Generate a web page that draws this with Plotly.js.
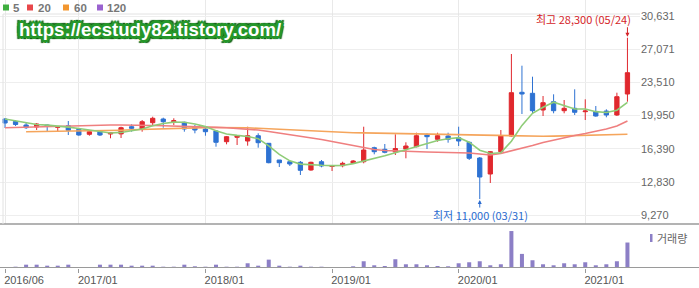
<!DOCTYPE html>
<html><head><meta charset="utf-8">
<script src="https://cdn.plot.ly/plotly-3.0.1.min.js"></script>
<style>html,body{margin:0;padding:0;background:#fff}#c{width:699px;height:288px}</style>
</head><body><div id="c"></div>
<script>
const months = ["2016/06","2016/07","2016/08","2016/09","2016/10","2016/11","2016/12",
"2017/01","2017/02","2017/03","2017/04","2017/05","2017/06","2017/07","2017/08","2017/09","2017/10","2017/11","2017/12",
"2018/01","2018/02","2018/03","2018/04","2018/05","2018/06","2018/07","2018/08","2018/09","2018/10","2018/11","2018/12",
"2019/01","2019/02","2019/03","2019/04","2019/05","2019/06","2019/07","2019/08","2019/09","2019/10","2019/11","2019/12",
"2020/01","2020/02","2020/03","2020/04","2020/05","2020/06","2020/07","2020/08","2020/09","2020/10","2020/11","2020/12",
"2021/01","2021/02","2021/03","2021/04","2021/05"];
const openP  = [19586,19318,18943,18728,18943,18696,18867,18482,17946,18225,17978,17989,18760,18514,19190,19586,19297,19232,18760,18514,18300,17152,17624,17227,17795,16981,15190,15007,14943,14117,15007,14493,14579,14836,15007,16509,16337,16048,16369,16616,17871,17409,17764,17581,17088,15404,13689,16080,17764,22449,22342,20552,21441,20476,20734,20369,20369,20444,20015,22267];
const highP  = [19693,19479,19157,19157,18996,18782,19372,18589,18300,18246,18139,18760,19018,19479,19833,19726,19662,19297,18943,18653,18407,17764,17795,18760,18053,17013,15190,15029,15083,15007,15190,14600,15007,15190,18760,16616,16905,17945,17088,18117,18053,18117,18117,18760,17152,15512,16150,18407,26556,25302,24122,22053,22235,21624,22771,21699,20980,20627,22407,28300];
const lowP   = [18621,18836,18514,18407,18300,18246,17871,17795,17795,17764,17516,17550,18225,18225,18867,18653,18943,18225,18053,17795,16616,16873,16798,16723,16509,14836,14440,14547,13581,14043,14407,14010,14407,14794,14836,15801,15908,15726,15372,16551,16369,17152,17045,16691,15190,11000,12724,15973,17688,20122,20198,19908,20198,20198,20015,19479,19833,19769,19908,21441];
const closeP = [19157,18996,18653,19050,18782,18728,18375,17871,18225,17871,18117,18653,18589,19297,19662,19297,19404,18514,18407,18225,17088,17688,17764,17795,17045,14901,14901,14761,14085,14943,14547,14579,14836,15083,16262,16080,16015,16423,16691,17795,17688,17795,17409,17227,15372,13367,16080,17764,22407,22267,20476,21334,20476,20734,20305,20444,19908,20015,21978,24551];
const ma5  = [19586,19372,19157,18996,18928,18842,18718,18561,18396,18214,18092,18147,18291,18505,18864,19100,19250,19235,19057,18769,18328,17984,17834,17712,17476,16700,15800,15100,14750,14650,14620,14583,14598,14798,15061,15368,15655,15973,16294,16601,16922,17278,17476,17583,17098,16234,15891,15962,17200,18900,20200,20850,21392,21057,20665,20659,20373,20281,20530,21379];
const ma20 = [18654,18686,18729,18771,18814,18857,18889,18911,18932,18943,18943,18943,18943,18921,18889,18857,18836,18803,18771,18729,18686,18643,18589,18514,18407,18246,18085,17924,17763,17570,17388,17174,16959,16691,16477,16316,16208,16155,16101,16069,16048,16026,16016,15994,15941,15833,15726,15887,16155,16445,16745,17067,17335,17603,17817,18031,18246,18514,18836,19372];
const ma60 = [null,null,18224,18235,18246,18257,18268,18278,18300,18321,18353,18386,18429,18471,18514,18557,18589,18621,18643,18664,18675,18675,18664,18643,18589,18536,18482,18428,18375,18310,18246,18171,18139,18117,18096,18074,18053,18031,18010,17989,17967,17946,17914,17882,17849,17817,17785,17753,17731,17721,17721,17731,17753,17774,17806,17828,17860,17892,17924,17946,17978];
const volume = [10,13,33,33,23,23,33,10,10,33,33,33,23,23,23,13,13,33,17,13,33,13,13,47,23,83,23,13,23,13,13,10,8,17,67,27,20,87,37,37,27,20,17,47,57,67,27,37,367,140,77,37,27,47,37,57,27,37,67,253];
const priceTicks = [9270,12830,16390,19950,23510,27071,30631];
const yearTicks = ["2016/06","2017/01","2018/01","2019/01","2020/01","2021/01"];
const legendItems = [["5","#3fae3f"],["20","#e8474a"],["60","#f2962f"],["120","#9a62cf"]];
const volLabel = "거래량";
const highText = "최고 28,300 (05/24)";
const lowText = "최저 11,000 (03/31)";
const watermark = "https://ecstudy82.tistory.com/";

const W = 699, PH = 268;
const px = x => x / W;
const py = y => (PH - y) / PH;

const traces = [
  {type:'scatter', mode:'lines', x:months, y:ma60, line:{color:'#f5a55c', width:1.6}, xaxis:'x', yaxis:'y', hoverinfo:'skip'},
  {type:'scatter', mode:'lines', x:months, y:ma20, line:{color:'#ef7f7f', width:1.6}, xaxis:'x', yaxis:'y', hoverinfo:'skip'},
  {type:'scatter', mode:'lines', x:months, y:ma5, line:{color:'#8fcc78', width:1.6}, xaxis:'x', yaxis:'y', hoverinfo:'skip'},
  {type:'candlestick', x:months, open:openP, high:highP, low:lowP, close:closeP,
   increasing:{line:{color:'#e0282e', width:1}, fillcolor:'#e0282e'},
   decreasing:{line:{color:'#2e72d2', width:1}, fillcolor:'#2e72d2'},
   whiskerwidth:0, xaxis:'x', yaxis:'y', hoverinfo:'skip'},
  {type:'bar', x:months, y:volume, marker:{color:'#8c7fc6'}, width:0.38, xaxis:'x2', yaxis:'y2', hoverinfo:'skip'}
];

const shapes = [
  {type:'line', xref:'paper', yref:'paper', x0:0, x1:1, y0:py(224), y1:py(224), line:{color:'#9a9a9a', width:1.5}},
  {type:'line', xref:'paper', yref:'paper', x0:0, x1:1, y0:py(267.5), y1:py(267.5), line:{color:'#9a9a9a', width:1}},
  {type:'line', xref:'paper', yref:'paper', x0:px(3), x1:px(3), y0:py(14), y1:py(224), line:{color:'#e2e2e2', width:1}},
  {type:'line', xref:'paper', yref:'paper', x0:px(3), x1:px(640), y0:py(14), y1:py(14), line:{color:'#e2e2e2', width:1}},
  {type:'rect', xref:'paper', yref:'paper', x0:px(650), x1:px(652.5), y0:py(242), y1:py(234), line:{width:0}, fillcolor:'#8c7fc6'}
];
const lx = [[3,11],[27,36],[63,72],[97,105]];
const annotations = [];
legendItems.forEach((it, k) => {
  shapes.push({type:'rect', xref:'paper', yref:'paper', x0:px(lx[k][0]), x1:px(lx[k][0]+6), y0:py(10.5), y1:py(4.5), line:{width:0}, fillcolor:it[1]});
  annotations.push({xref:'paper', yref:'paper', x:px(lx[k][1]), y:py(7.5), xanchor:'left', yanchor:'middle', showarrow:false,
    text:'<b>'+it[0]+'</b>', font:{family:'Liberation Sans, Arial, sans-serif', size:11.5, color:'#777'}});
});
annotations.push({xref:'paper', yref:'paper', x:px(655), y:py(238), xanchor:'left', yanchor:'middle', showarrow:false,
  text:volLabel, font:{family:'Noto Sans CJK KR', size:11, color:'#666'}});
const g = '#25962a', gd = '#0d5f10';
annotations.push({xref:'paper', yref:'paper', x:px(150), y:py(29), xanchor:'center', yanchor:'middle', showarrow:false,
  text:'<b>'+watermark+'</b>',
  font:{family:'Liberation Sans, Arial, sans-serif', size:18.6, color:'#ffffff',
    shadow:`2px 0 0 ${g}, -2px 0 0 ${g}, 0 2px 0 ${g}, 0 -2px 0 ${g}, 2px 2px 0 ${g}, -2px -2px 0 ${g}, 2px -2px 0 ${g}, -2px 2px 0 ${g}, 3px 0 0 ${g}, -3px 0 0 ${g}, 0 3px 0 ${g}, 0 -3px 0 ${g}, 3px 3px 1px ${gd}, -3px -3px 1px ${gd}, 3px -3px 1px ${gd}, -3px 3px 1px ${gd}`}});
annotations.push({xref:'paper', yref:'paper', x:px(583), y:py(19), xanchor:'center', yanchor:'middle', showarrow:false,
  text:highText, font:{family:'Noto Sans CJK KR', size:11, color:'#d42328'}});
annotations.push({xref:'x', yref:'y', x:'2021/05', y:28300, ax:0, ay:-12, showarrow:true, arrowhead:2, arrowsize:0.8, arrowwidth:1, standoff:1, arrowcolor:'#d42328', text:''});
annotations.push({xref:'paper', yref:'paper', x:px(481), y:py(215), xanchor:'center', yanchor:'middle', showarrow:false,
  text:lowText, font:{family:'Noto Sans CJK KR', size:11, color:'#2a6bcf'}});
annotations.push({xref:'x', yref:'y', x:'2020/03', y:11000, ax:0, ay:10, showarrow:true, arrowhead:2, arrowsize:0.8, arrowwidth:1, standoff:1, arrowcolor:'#2a6bcf', text:''});

const xr = [-0.474, 60.19];
const layout = {
  width:699, height:288, margin:{l:0, r:0, t:0, b:20},
  paper_bgcolor:'#fff', plot_bgcolor:'#fff', showlegend:false, boxgap:0.42,
  xaxis:{domain:[0, 640/W], type:'category', categoryarray:months, range:xr, anchor:'y',
    showticklabels:false, tickvals:yearTicks, ticks:'', showgrid:true, gridcolor:'#e9e9e9', gridwidth:1,
    zeroline:false, showline:false, rangeslider:{visible:false}, fixedrange:true},
  yaxis:{domain:[py(224), 1], range:[8327, 32347], side:'right', anchor:'x',
    tickvals:priceTicks, ticktext:priceTicks.map(v => v.toLocaleString('en-US')), ticks:'',
    showgrid:true, gridcolor:'#eeeeee', zeroline:false, showline:false,
    tickfont:{family:'Liberation Sans, Arial, sans-serif', size:11, color:'#666'}, fixedrange:true},
  xaxis2:{domain:[0, 640/W], type:'category', categoryarray:months, range:xr, anchor:'y2',
    tickvals:yearTicks, ticks:'outside', ticklen:4, tickcolor:'#999', ticklabelshift:19, ticklabelstandoff:-2,
    showgrid:false, zeroline:false, showline:false,
    tickfont:{family:'Liberation Sans, Arial, sans-serif', size:11, color:'#555'}, fixedrange:true},
  yaxis2:{domain:[0, py(226)], range:[0, 417], visible:false, fixedrange:true},
  shapes:shapes, annotations:annotations
};
Plotly.newPlot('c', traces, layout, {displayModeBar:false, staticPlot:true});
</script></body></html>
